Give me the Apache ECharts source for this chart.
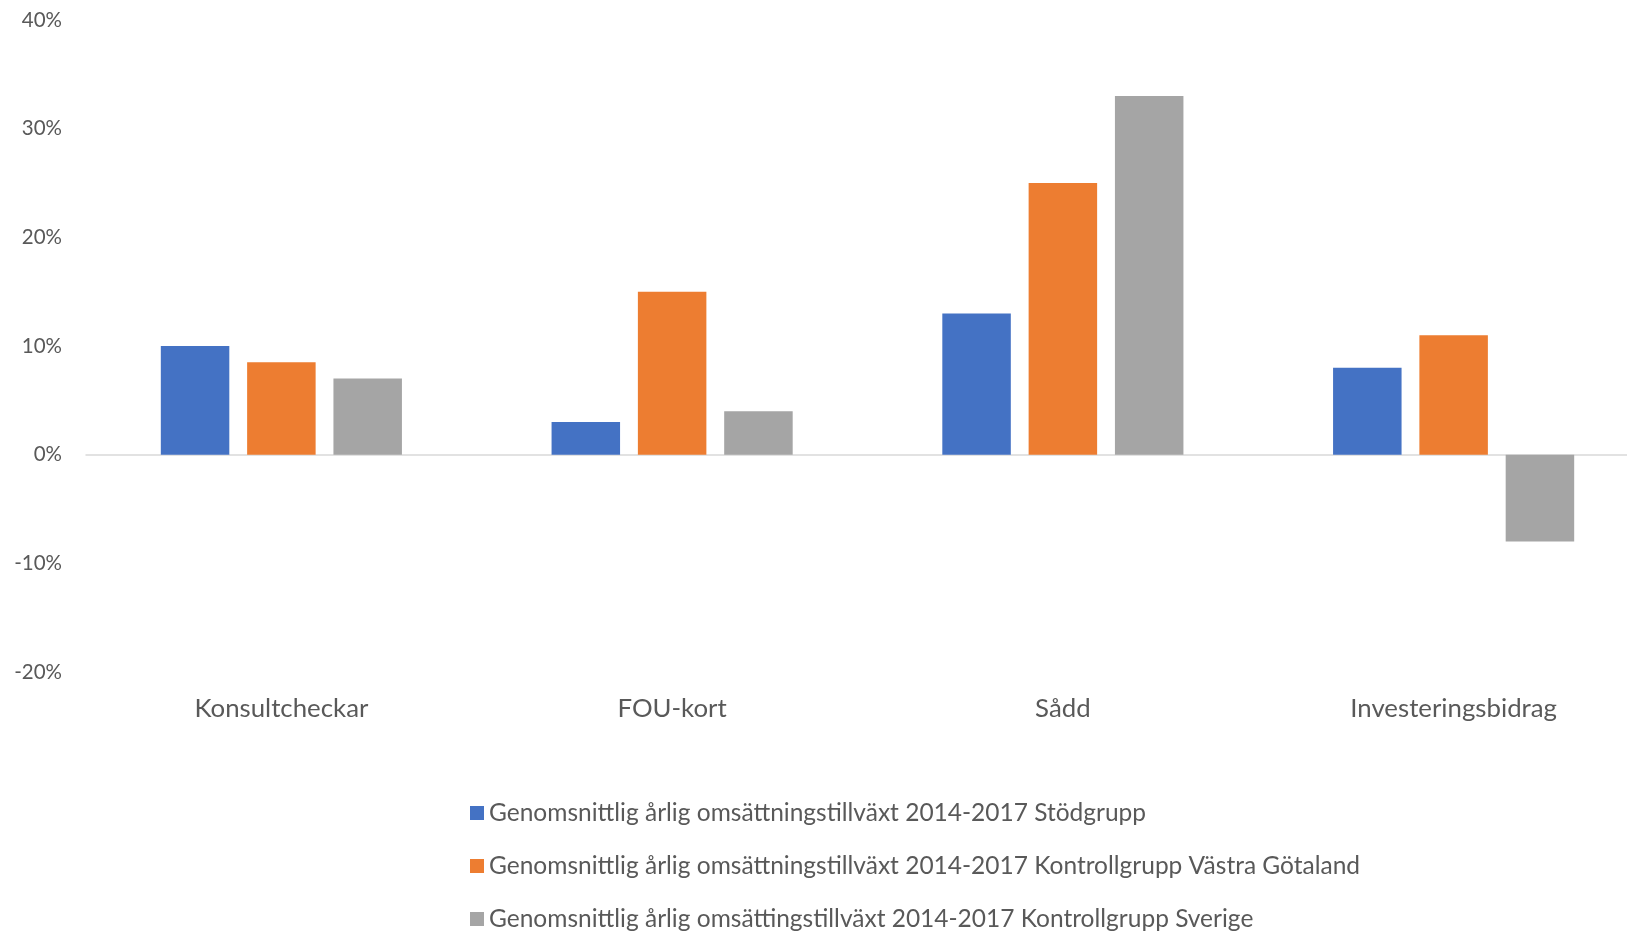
<!DOCTYPE html>
<html>
<head>
<meta charset="utf-8">
<script src="https://cdn.jsdelivr.net/npm/echarts@6/dist/echarts.min.js"></script>
<style>
  html, body { margin: 0; padding: 0; background: #fff; }
  #chart { width: 1627px; height: 934px; }
</style>
</head>
<body>
<div id="chart"></div>
<script>
// Program categories
const categories = ['Konsultcheckar', 'FOU-kort', 'Sådd', 'Investeringsbidrag'];

// Average annual turnover growth 2014-2017, percent
const stodgrupp = [10, 3, 13, 8];
const kontrollVG = [8.5, 15, 25, 11];
const kontrollSverige = [7, 4, 33, -8];

const seriesNames = [
  'Genomsnittlig årlig omsättningstillväxt 2014-2017 Stödgrupp',
  'Genomsnittlig årlig omsättningstillväxt 2014-2017 Kontrollgrupp Västra Götaland',
  'Genomsnittlig årlig omsättingstillväxt 2014-2017 Kontrollgrupp Sverige'
];
const seriesData = [stodgrupp, kontrollVG, kontrollSverige];
const colors = ['#4472C4', '#ED7D31', '#A5A5A5'];

const FONT = 'Lato, "Open Sans", sans-serif';
const chart = echarts.init(document.getElementById('chart'), null, { renderer: 'canvas' });

chart.setOption({
  animation: false,
  color: colors,
  textStyle: { fontFamily: FONT },
  // plot area runs a little past the right edge of the canvas
  grid: {
    left: 86, width: 1563, top: 20, bottom: 262,
    containLabel: false,
    outerBoundsMode: 'none'
  },
  legend: {
    orient: 'vertical',
    left: 470,
    top: 799,
    padding: 0,
    itemWidth: 14,
    itemHeight: 14,
    itemGap: 25,
    icon: 'rect',
    textStyle: { color: '#595959', fontSize: 24.5, fontFamily: FONT, lineHeight: 28 },
    data: seriesNames
  },
  xAxis: [
    {
      type: 'category',
      data: categories,
      position: 'bottom',
      axisLine: { show: false, onZero: false },
      axisTick: { show: false },
      axisLabel: { color: '#595959', fontSize: 25.8, margin: 24, fontFamily: FONT }
    },
    {
      type: 'category',
      data: categories,
      position: 'bottom',
      axisLine: { show: true, onZero: true, lineStyle: { color: '#D9D9D9', width: 1.5 } },
      axisTick: { show: false },
      axisLabel: { show: false }
    }
  ],
  yAxis: {
    type: 'value',
    min: -20,
    max: 40,
    interval: 10,
    axisLine: { show: false },
    axisTick: { show: false },
    splitLine: { show: false },
    axisLabel: {
      color: '#595959',
      fontSize: 20.5,
      margin: 24,
      fontFamily: FONT,
      formatter: v => v + '%'
    }
  },
  series: seriesData.map((d, i) => ({
    name: seriesNames[i],
    type: 'bar',
    xAxisIndex: 0,
    data: d,
    barWidth: 68.5,
    barGap: '26%',
    itemStyle: { color: colors[i] }
  }))
});
</script>
</body>
</html>
